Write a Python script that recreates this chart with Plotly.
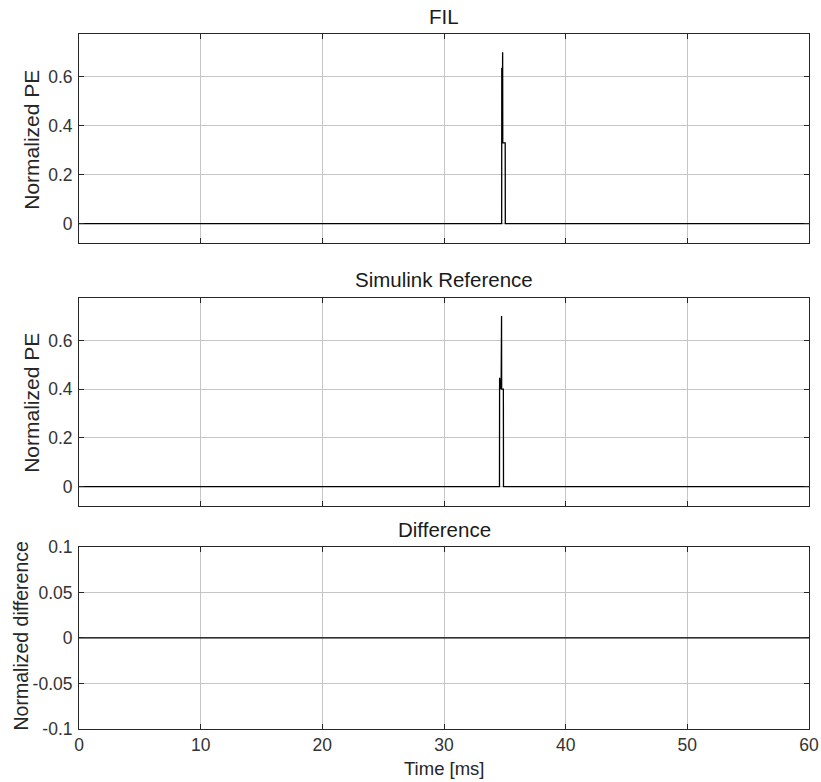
import plotly.graph_objects as go
from plotly.subplots import make_subplots

# Time axis and signals (ms, normalized PE)
fil_time = [0.0, 34.74, 34.75, 34.77, 34.78, 34.80, 34.81, 34.82, 34.83, 35.03, 35.04, 60.0]
fil_pe = [0.0, 0.0, 0.637, 0.33, 0.62, 0.33, 0.60, 0.70, 0.33, 0.33, 0.0, 0.0]

ref_time = [0.0, 34.56, 34.57, 34.60, 34.63, 34.66, 34.70, 34.73, 34.74, 34.88, 34.89, 60.0]
ref_pe = [0.0, 0.0, 0.447, 0.40, 0.445, 0.40, 0.44, 0.70, 0.40, 0.40, 0.0, 0.0]

diff_time = [0.0, 60.0]
diff_val = [0.0, 0.0]

titles = ["FIL", "Simulink Reference", "Difference"]
ylabels = ["Normalized PE", "Normalized PE", "Normalized difference"]
xlabel = "Time [ms]"

x_ticks = [0, 10, 20, 30, 40, 50, 60]
pe_ticks = [0, 0.2, 0.4, 0.6]
pe_ticktext = ["0", "0.2", "0.4", "0.6"]
diff_ticks = [-0.1, -0.05, 0, 0.05, 0.1]
diff_ticktext = ["-0.1", "-0.05", "0", "0.05", "0.1"]

W, H = 821, 782
L, R, T, B = 79.3, 11.7, 34.0, 53.3
pw = W - L - R
ph = H - T - B

def ypos(px):
    return (H - B - px) / ph

def xpos(px):
    return (px - L) / pw

domains = [
    [ypos(243.0), ypos(34.0)],
    [ypos(506.0), ypos(297.7)],
    [ypos(728.7), ypos(546.7)],
]

fig = make_subplots(rows=3, cols=1)

line_style = dict(color="black", width=1.3)
fig.add_trace(go.Scatter(x=fil_time, y=fil_pe, mode="lines", line=line_style), row=1, col=1)
fig.add_trace(go.Scatter(x=ref_time, y=ref_pe, mode="lines", line=line_style), row=2, col=1)
fig.add_trace(go.Scatter(x=diff_time, y=diff_val, mode="lines", line=line_style), row=3, col=1)

FONT = "Liberation Sans, Arial, sans-serif"
axis_color = "#262626"
grid_color = "#c6c6c6"
tick_font = dict(family=FONT, size=17.5, color="#333333")

for i in range(3):
    xa = "xaxis" if i == 0 else f"xaxis{i+1}"
    ya = "yaxis" if i == 0 else f"yaxis{i+1}"
    fig.layout[xa].update(
        range=[0, 60], tickvals=x_ticks, ticktext=[str(v) for v in x_ticks],
        showticklabels=(i == 2), ticks="inside", ticklen=5, tickcolor=axis_color,
        showline=True, mirror="ticks", linecolor=axis_color, linewidth=1,
        showgrid=True, gridcolor=grid_color, gridwidth=1, zeroline=False,
        tickfont=tick_font, domain=[0, 1], automargin=False,
    )
    if i < 2:
        yr = [-0.08, 0.775]
        tv, tt = pe_ticks, pe_ticktext
    else:
        yr = [-0.1, 0.1]
        tv, tt = diff_ticks, diff_ticktext
    fig.layout[ya].update(
        range=yr, tickvals=tv, ticktext=tt, ticks="inside", ticklen=5,
        tickcolor=axis_color, showline=True, mirror="ticks", linecolor=axis_color,
        linewidth=1, showgrid=True, gridcolor=grid_color, gridwidth=1,
        zeroline=False, tickfont=tick_font, domain=domains[i],
        ticklabelstandoff=2, automargin=False,
    )

title_font = dict(family=FONT, size=20.5, color="#1a1a1a")
label_sizes = [21, 21, 19.5]

title_y = [16.5, 279.5, 529.5]
label_x = [31.0, 31.0, 21.5]
label_y = [140.0, 403.0, 636.0]

annotations = []
for i in range(3):
    annotations.append(dict(
        text=titles[i], xref="paper", yref="paper", x=0.5,
        y=ypos(title_y[i]), xanchor="center", yanchor="middle",
        showarrow=False, font=title_font,
    ))
    annotations.append(dict(
        text=ylabels[i], xref="paper", yref="paper",
        x=xpos(label_x[i]), y=ypos(label_y[i]),
        xanchor="center", yanchor="middle", textangle=-90,
        showarrow=False, font=dict(family=FONT, size=label_sizes[i], color="#262626"),
    ))
annotations.append(dict(
    text=xlabel, xref="paper", yref="paper", x=0.5, y=ypos(768.0),
    xanchor="center", yanchor="middle", showarrow=False,
    font=dict(family=FONT, size=18.5, color="#262626"),
))

fig.update_layout(
    width=W, height=H, showlegend=False,
    margin=dict(l=L, r=R, t=T, b=B, pad=0, autoexpand=False),
    paper_bgcolor="white", plot_bgcolor="white",
    annotations=annotations,
)

fig.write_html("out.html")
